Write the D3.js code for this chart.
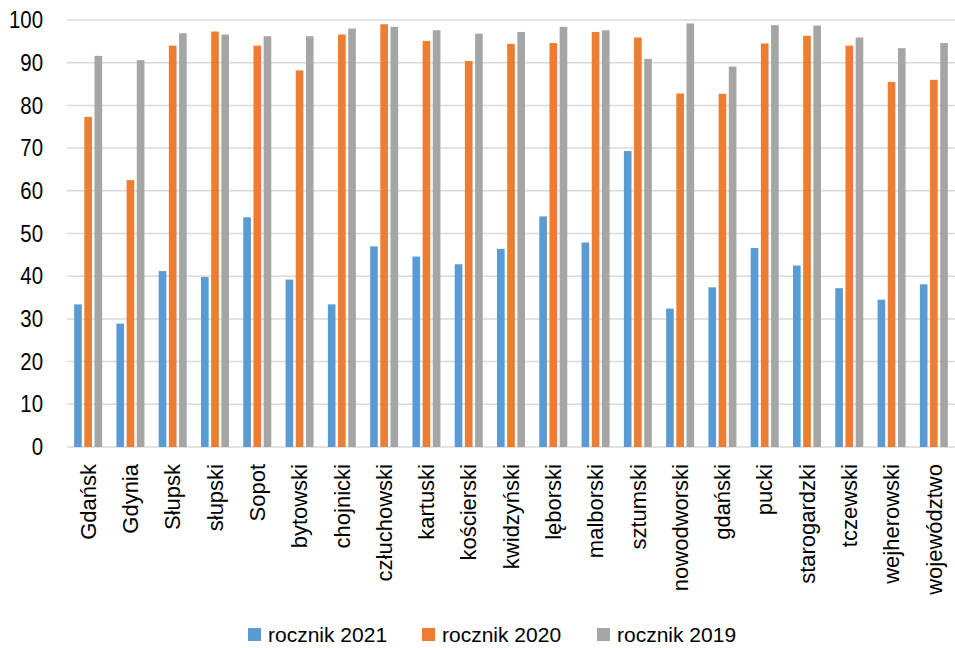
<!DOCTYPE html>
<html><head><meta charset="utf-8">
<script src="https://cdn.jsdelivr.net/npm/d3@7"></script>
<style>body{margin:0;background:#fff}svg{display:block}text{font-family:"Liberation Sans",Arial,sans-serif;fill:#000}</style>
</head><body>
<script>
const categories = ["Gdańsk","Gdynia","Słupsk","słupski","Sopot","bytowski","chojnicki","człuchowski","kartuski","kościerski","kwidzyński","lęborski","malborski","sztumski","nowodworski","gdański","pucki","starogardzki","tczewski","wejherowski","województwo"];
const seriesNames = ["rocznik 2021","rocznik 2020","rocznik 2019"];
const values2021 = [33.4,28.9,41.2,39.8,53.8,39.2,33.4,47.0,44.6,42.8,46.4,54.0,47.9,69.3,32.4,37.4,46.6,42.5,37.2,34.5,38.1];
const values2020 = [77.3,62.5,94.0,97.3,94.0,88.2,96.6,99.0,95.1,90.4,94.4,94.6,97.2,95.9,82.8,82.7,94.5,96.3,94.0,85.5,86.0];
const values2019 = [91.6,90.6,96.9,96.6,96.2,96.2,98.0,98.4,97.6,96.8,97.2,98.4,97.6,90.9,99.2,89.1,98.8,98.7,95.9,93.4,94.6];
const yTicks = [0,10,20,30,40,50,60,70,80,90,100];
const colors = ["#5b9bd5","#ed7d31","#a5a5a5"];

const W=955,H=648;
const m={left:67,right:0,top:20,bottom:201};
const svg=d3.select("body").append("svg").attr("width",W).attr("height",H);
const x=d3.scaleBand().domain(categories).range([m.left,W-m.right]).padding(0);
const y=d3.scaleLinear().domain([0,100]).range([H-m.bottom,m.top]);
const series=[values2021,values2020,values2019];
const inner=d3.scaleBand().domain([0,1,2]).range([-14,14]).paddingInner(0.25).paddingOuter(0);

// gridlines
svg.append("g").selectAll("line").data(yTicks).join("line")
  .attr("x1",m.left).attr("x2",W-m.right)
  .attr("y1",d=>y(d)).attr("y2",d=>y(d))
  .attr("stroke","#d9d9d9").attr("stroke-width",1.5);

// y axis labels
const yAxis=d3.axisLeft(y).tickValues(yTicks).tickSize(0).tickPadding(0);
const gy=svg.append("g").attr("transform",`translate(${m.left},0)`).call(yAxis);
gy.select(".domain").remove();
gy.selectAll("text").attr("font-size",24).style("font-family","'Liberation Sans',Arial,sans-serif").attr("fill","#000")
  .attr("x",0).attr("transform","translate(-24,0) scale(0.85,1)");

// bars
series.forEach((vals,si)=>{
  svg.append("g").selectAll("rect").data(vals).join("rect")
    .attr("x",(d,i)=>x(categories[i])+x.bandwidth()/2+inner(si))
    .attr("width",inner.bandwidth())
    .attr("y",d=>y(d)).attr("height",d=>y(0)-y(d))
    .attr("fill",colors[si]);
});

// x labels
const xAxis=d3.axisBottom(x).tickSize(0).tickPadding(0);
const gx=svg.append("g").attr("transform",`translate(0,${y(0)})`).call(xAxis);
gx.select(".domain").remove();
gx.selectAll("text").attr("font-size",22).style("font-family","'Liberation Sans',Arial,sans-serif").attr("fill","#000")
  .attr("text-anchor","end").attr("dy","0.35em")
  .attr("transform","translate(0,17) rotate(-90)").attr("x",0).attr("y",0);

// legend
const legX=[248,422,597];
const leg=svg.append("g").selectAll("g").data(seriesNames).join("g")
  .attr("transform",(d,i)=>`translate(${legX[i]},628)`);
leg.append("rect").attr("width",13).attr("height",13).attr("fill",(d,i)=>colors[i]);
leg.append("text").attr("x",20).attr("y",6.5).attr("dy","0.35em").attr("font-size",21).text(d=>d);
</script>
</body></html>
